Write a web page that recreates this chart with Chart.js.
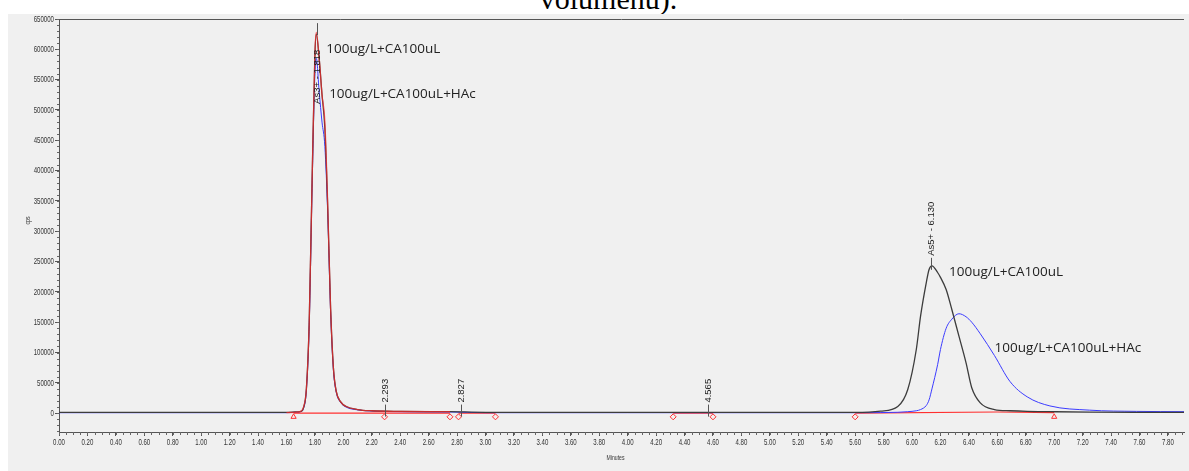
<!DOCTYPE html>
<html>
<head>
<meta charset="utf-8">
<script src="https://cdn.jsdelivr.net/npm/chart.js@4.4.0/dist/chart.umd.min.js"></script>
<style>
    html, body { margin: 0; padding: 0; background: #fff; width: 1189px; height: 471px; overflow: hidden; }
    body { position: relative; }
    #caption {
        position: absolute; top: -16px; left: 14px; width: 1189px;
        text-align: center; font: 30px/30px 'Liberation Serif', 'Times New Roman', serif; color: #000;
    }
    #wrap { position: absolute; left: 8px; top: 14px; width: 1181px; height: 457px; background: #f0f0f0; }
</style>
</head>
<body>
<div id="caption">volumenu).</div>
<div id="wrap"><canvas id="chromChart" width="1181" height="457"></canvas></div>
<script>
// ===========================
// Chromatogram data (minutes / cps)
// ===========================

const retentionTimes = [0.00, 0.50, 1.00, 1.50, 1.60, 1.66, 1.70, 1.72, 1.74, 1.76, 1.78, 1.80, 1.81, 1.83, 1.85,
    1.87, 1.89, 1.91, 1.93, 1.95, 1.98, 2.02, 2.10, 2.20, 2.40, 2.75, 3.00, 4.00, 5.00, 5.60, 5.78, 5.90, 5.97,
    6.03, 6.06, 6.10, 6.12, 6.14, 6.18, 6.20, 6.24, 6.28, 6.33, 6.38, 6.42, 6.48, 6.58, 6.69, 6.81, 6.97, 7.25,
    7.58, 7.92];

// 100ug/L+CA100uL (black)
const caSignal = [1500, 1500, 1500, 1500, 1500, 2000, 3000, 9000, 40000, 150000, 380000, 590000, 625000, 585000, 525000,
    470000, 340000, 175000, 75000, 36000, 19000, 11000, 6000, 4000, 3000, 2500, 1500, 1500, 1500, 1500, 3500, 11000, 39000,
    105000, 160000, 215000, 237000, 243000, 232000, 224000, 204000, 171000, 127000, 83000, 42000, 17000, 6000, 4000, 3000, 2500, 1800,
    1500, 1500];

// 100ug/L+CA100uL+HAc (blue)
const hacSignal = [800, 800, 800, 800, 800, 1500, 2500, 8000, 38000, 145000, 370000, 560000, 585000, 530000, 480000,
    440000, 330000, 170000, 72000, 35000, 18000, 10000, 5500, 3500, 2500, 2000, 800, 800, 800, 800, 1000, 1500, 2500,
    4000, 6000, 12600, 22000, 40000, 80000, 105000, 140000, 155000, 164000, 159000, 150000, 131000, 95000, 52000, 27000, 12000, 5000,
    3000, 2500];

// integration trace over the As3+ peak (red)
const fitSignal = [null, null, null, null, 1000, 1500, 3000, 10000, 40000, 150000, 380000, 595000, 628000, 585000, 525000,
    480000, 345000, 175000, 75000, 36000, 19000, 11000, 6000, 4000, 3000, 2500, null, null, null, null, null, null, null,
    null, null, null, null, null, null, null, null, null, null, null, null, null, null, null, null, null, null,
    null, null];

// integration baselines (red), null = break
const baselineTimes = [1.65, 2.75, 2.78, 2.81, 3.07, 3.10, 4.32, 4.60, 4.65, 5.60, 6.60, 7.00];
const baselineValues = [0, 0, null, 0, 0, null, 0, 0, null, 0, 2000, 1000];

// baseline markers
const markerTimes = [1.65, 2.29, 2.75, 2.81, 3.07, 4.32, 4.60, 5.60, 7.00];
const markerValues = [-6000, -6000, -6000, -6000, -6000, -6000, -6000, -6000, -6000];
const markerShapes = ['triangle', 'rectRot', 'rectRot', 'rectRot', 'rectRot', 'rectRot', 'rectRot', 'rectRot', 'triangle'];

// peak annotations
const peakNames = ['As3+ - 1.818', '2.293', '2.827', '4.565', 'As5+ - 6.130'];
const peakTimes = [1.818, 2.293, 2.827, 4.565, 6.135];
const peakApex = [630000, 1000, 1000, 1000, 243000];
const peakTextAt = [510000, null, null, null, null];

// trace labels
const traceNames = ['100ug/L+CA100uL', '100ug/L+CA100uL+HAc', '100ug/L+CA100uL', '100ug/L+CA100uL+HAc'];
const traceLabelTimes = [1.88, 1.90, 6.26, 6.58];
const traceLabelValues = [600000, 526000, 233000, 108000];

// axes
const xMin = 0, xMax = 7.913, xStep = 0.2;
const yMin = -31000, yMax = 650000;
const yTickValues = [0, 50000, 100000, 150000, 200000, 250000, 300000, 350000, 400000, 450000, 500000, 550000, 600000, 650000];

const pairs = (xs, ys) => xs.map((t, i) => ({ x: t, y: ys[i] }));

// ===========================
// Extra drawing
// ===========================

function condensedText(ctx, text, px, py, align) {
    ctx.save();
    ctx.translate(px, py);
    ctx.scale(0.64, 1);
    ctx.textAlign = align;
    ctx.textBaseline = 'middle';
    ctx.fillText(text, 0, 0);
    ctx.restore();
}

const chromExtras = {
    id: 'chromExtras',
    afterDatasetsDraw(chart) {
        const { ctx, chartArea, scales: { x, y } } = chart;
        ctx.save();

        // top frame line
        ctx.strokeStyle = '#555';
        ctx.lineWidth = 1;
        ctx.beginPath();
        ctx.moveTo(chartArea.left, chartArea.top + 0.5);
        ctx.lineTo(chartArea.right, chartArea.top + 0.5);
        ctx.stroke();

        // minor ticks
        ctx.strokeStyle = '#666';
        ctx.beginPath();
        for (let t = xMin; t <= xMax; t += 0.05) {
            const px = Math.round(x.getPixelForValue(t)) + 0.5;
            ctx.moveTo(px, chartArea.bottom);
            ctx.lineTo(px, chartArea.bottom + 3);
        }
        for (let v = -30000; v <= yMax; v += 10000) {
            const py = Math.round(y.getPixelForValue(v)) + 0.5;
            ctx.moveTo(chartArea.left - 2, py);
            ctx.lineTo(chartArea.left, py);
        }
        ctx.stroke();

        // tick labels (narrow)
        ctx.font = '9.5px "Liberation Sans", Arial, sans-serif';
        ctx.fillStyle = '#333';
        x.ticks.forEach(t => condensedText(ctx, t.value.toFixed(2), x.getPixelForValue(t.value), chartArea.bottom + 10, 'center'));
        y.ticks.forEach(t => condensedText(ctx, String(t.value), chartArea.left - 5, y.getPixelForValue(t.value), 'right'));
        ctx.font = '8px "Liberation Sans", Arial, sans-serif';
        condensedText(ctx, 'Minutes', (chartArea.left + chartArea.right) / 2 - 6, chartArea.bottom + 26, 'center');
        ctx.save();
        ctx.translate(chartArea.left - 31, (chartArea.top + chartArea.bottom) / 2 - 5);
        ctx.rotate(-Math.PI / 2);
        condensedText(ctx, 'cps', 0, 0, 'center');
        ctx.restore();

        // peak labels
        ctx.font = '9.5px "Liberation Sans", Arial, sans-serif';
        ctx.fillStyle = '#222';
        ctx.textAlign = 'left';
        ctx.textBaseline = 'middle';
        peakNames.forEach((name, i) => {
            const px = Math.round(x.getPixelForValue(peakTimes[i])) + 0.5;
            const py = y.getPixelForValue(peakApex[i]);
            ctx.strokeStyle = '#555';
            ctx.beginPath();
            ctx.moveTo(px, py + 4);
            ctx.lineTo(px, py - 8);
            ctx.stroke();
            const base = peakTextAt[i] !== null ? y.getPixelForValue(peakTextAt[i]) : py - 10;
            ctx.save();
            ctx.translate(px, base);
            ctx.rotate(-Math.PI / 2);
            ctx.fillText(name, 0, 0);
            ctx.restore();
        });

        // trace labels
        ctx.font = '13.5px "Open Sans", sans-serif';
        ctx.fillStyle = '#222';
        traceNames.forEach((name, i) => {
            ctx.fillText(name, x.getPixelForValue(traceLabelTimes[i]), y.getPixelForValue(traceLabelValues[i]));
        });

        ctx.restore();
    }
};

// ===========================
// Chart
// ===========================

new Chart(document.getElementById('chromChart'), {
    type: 'line',
    data: {
        datasets: [
            {
                label: 'fit',
                data: pairs(retentionTimes, fitSignal),
                borderColor: 'rgba(255, 40, 40, 0.7)',
                borderWidth: 1.3,
                pointRadius: 0,
                cubicInterpolationMode: 'monotone',
                spanGaps: false,
                order: 0
            },
            {
                label: 'markers',
                data: pairs(markerTimes, markerValues),
                showLine: false,
                pointStyle: markerShapes,
                pointRadius: 3,
                borderColor: '#ff3030',
                backgroundColor: 'rgba(0,0,0,0)',
                borderWidth: 1,
                order: 0
            },
            {
                label: '100ug/L+CA100uL',
                data: pairs(retentionTimes, caSignal),
                borderColor: '#3c3c3c',
                borderWidth: 1.3,
                pointRadius: 0,
                cubicInterpolationMode: 'monotone',
                order: 1
            },
            {
                label: '100ug/L+CA100uL+HAc',
                data: pairs(retentionTimes, hacSignal),
                borderColor: '#3b3bff',
                borderWidth: 1,
                pointRadius: 0,
                cubicInterpolationMode: 'monotone',
                order: 2
            },
            {
                label: 'baseline',
                data: pairs(baselineTimes, baselineValues),
                borderColor: '#ff3030',
                borderWidth: 1.2,
                pointRadius: 0,
                spanGaps: false,
                order: 3
            }
        ]
    },
    options: {
        responsive: false,
        animation: false,
        layout: { padding: { top: 5, right: 0, left: 0, bottom: 0 } },
        plugins: {
            legend: { display: false },
            tooltip: { enabled: false }
        },
        scales: {
            x: {
                type: 'linear',
                min: xMin,
                max: xMax,
                afterFit: s => { s.height = 39; },
                grid: { drawOnChartArea: false, drawTicks: true, tickLength: 4, color: '#555' },
                border: { display: true, color: '#555' },
                ticks: { stepSize: xStep, includeBounds: false, autoSkip: false, maxRotation: 0, display: false }
            },
            y: {
                min: yMin,
                max: yMax,
                afterFit: s => { s.width = 51; },
                afterBuildTicks: s => { s.ticks = yTickValues.map(v => ({ value: v })); },
                grid: { drawOnChartArea: false, drawTicks: true, tickLength: 4, color: '#555' },
                border: { display: true, color: '#555' },
                ticks: { display: false }
            }
        }
    },
    plugins: [chromExtras]
});
</script>
</body>
</html>
